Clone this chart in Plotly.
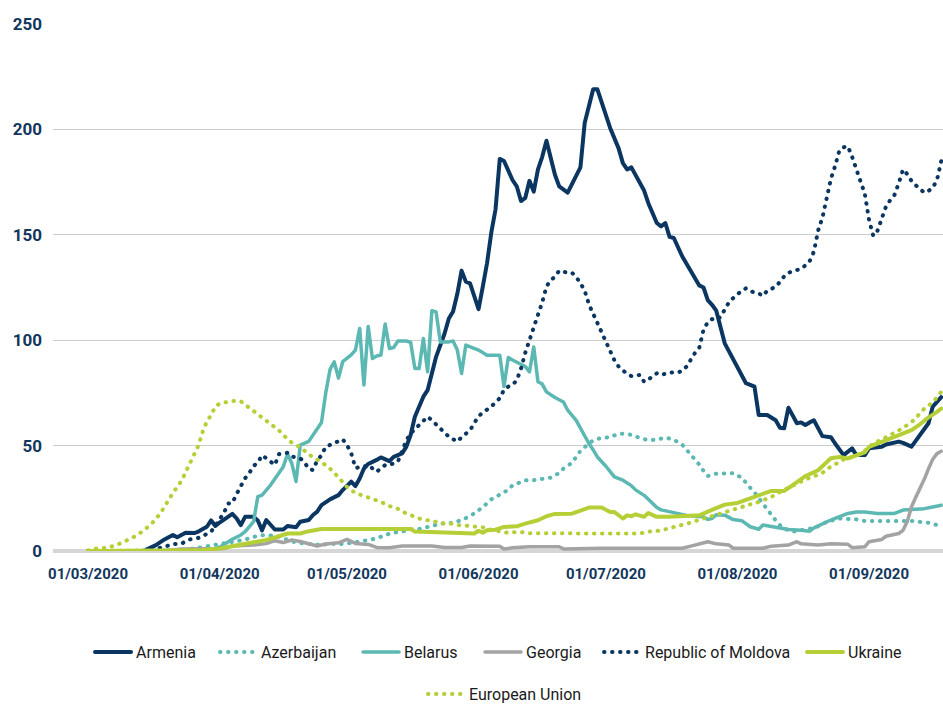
import plotly.graph_objects as go

# ---- data ----
tick_dates = ["2020-03-01", "2020-04-01", "2020-05-01", "2020-06-01",
              "2020-07-01", "2020-08-01", "2020-09-01"]
tick_labels = ["01/03/2020", "01/04/2020", "01/05/2020", "01/06/2020",
               "01/07/2020", "01/08/2020", "01/09/2020"]
y_ticks = [0, 50, 100, 150, 200, 250]

armenia_dates = ["03-01","03-14","03-17","03-19","03-21","03-22","03-24","03-26","03-27","03-28","03-29","03-30","03-31",
    "04-01","04-02","04-04","04-05","04-06","04-07","04-09","04-10","04-11","04-12","04-14","04-16","04-17","04-19","04-20",
    "04-22","04-23","04-24","04-25","04-27","04-29","04-30","05-01","05-02","05-03","05-04","05-05","05-06","05-08","05-09",
    "05-11","05-12","05-14","05-15","05-16","05-17","05-19","05-20","05-21","05-22","05-24","05-25","05-26","05-27","05-28",
    "05-29","05-30","06-01","06-02","06-03","06-04","06-05","06-06","06-07","06-09","06-10","06-11","06-12","06-13","06-14",
    "06-15","06-16","06-17","06-19","06-20","06-22","06-25","06-26","06-28","06-29","07-02","07-03","07-04","07-05","07-06",
    "07-07","07-10","07-11","07-13","07-14","07-15","07-16","07-17","07-19","07-22","07-23","07-24","07-25","07-26","07-27",
    "07-29","07-31","08-02","08-03","08-05","08-06","08-08","08-10","08-11","08-12","08-13","08-15","08-16","08-17","08-18",
    "08-19","08-21","08-23","08-24","08-26","08-28","08-29","08-31","09-01","09-04","09-05","09-08","09-09","09-11","09-13",
    "09-15","09-16","09-18"]
armenia = [0,0,2.8,5.5,7.6,6.5,8.7,8.5,9.2,10.5,11.5,14.5,11.9,
    13.5,14.7,17.6,15.5,12.3,16.2,16.2,14.5,9.8,14.7,10.2,10.2,11.9,11.3,13.9,
    14.7,17.1,18.7,21.8,24.5,26.5,28.9,30.8,32.9,30.8,34.4,39.1,41.3,43.2,44.4,
    42.6,44.7,46.3,49.5,55,63.7,73.2,76.3,84.2,92.1,103.2,110.3,113.6,122,133,
    127.8,127,114.7,125.4,136.5,151,162,186,185,176,173,166,167.5,175.6,170.5,
    181,187,194.6,178.5,173,170,182,203,219,219,200.7,196,191,184,181,
    182,171,165,155.6,154,155.6,149,148.5,139.7,130,126,125,119,116.8,114,
    98.5,90.6,82.7,79.6,78,64.5,64.5,62,58.5,58.2,68,60.6,61,59.8,61,
    62,54.5,54,51,45.5,48.7,45.5,45.5,48.7,49.5,50.5,51.9,51.3,49.5,55,
    60.6,68.5,73]

azerbaijan_dates = ["03-01","03-23","03-26","03-30","04-02","04-03","04-07","04-09","04-11","04-13","04-15","04-17","04-19",
    "04-21","04-23","04-25","04-27","04-29","05-01","05-03","05-04","05-06","05-08","05-10","05-12","05-14","05-16","05-18",
    "05-20","05-22","05-24","05-26","05-27","05-29","05-31","06-02","06-04","06-06","06-08","06-09","06-11","06-12","06-14",
    "06-16","06-18","06-20","06-21","06-23","06-24","06-25","06-27","06-28","06-30","07-02","07-04","07-06","07-08","07-09",
    "07-11","07-13","07-15","07-17","07-19","07-20","07-21","07-22","07-23","07-24","07-25","07-27","07-29","07-31","08-02",
    "08-03","08-04","08-05","08-06","08-07","08-08","08-09","08-10","08-11","08-12","08-14","08-16","08-18","08-20","08-22",
    "08-25","08-27","08-29","08-31","09-02","09-04","09-08","09-10","09-12","09-13","09-15","09-17","09-18"]
azerbaijan = [0,0.3,1.2,2.7,3.8,4.3,5.4,6.7,7.5,7.4,6.8,5.3,4,
    3.6,3,2.8,3.5,3.2,3.6,3.9,4.4,5.2,6,7.6,8.7,9.2,10.3,10.4,
    11.6,12.4,13.2,13.3,14,15.6,17.8,20.8,24.5,26.6,29,31.2,32.6,33.5,33.6,
    34.4,34.8,37,39.1,41.8,44.6,47.5,51,52.5,53.7,54,55.7,55.6,54.5,53.5,
    52.6,52.8,53.8,52.8,50.4,48,46,43.5,41,38,35.6,36.7,36.9,36.9,34.8,
    32,30,27.8,25,22.5,19.8,17,14.5,12.3,10.6,9.2,9.8,10.6,11.7,13.8,
    15.4,15.4,15,14.2,14.2,14.6,14.6,14.2,14.2,13.8,13.4,12.3,11.7]

belarus_dates = ["03-01","03-29","04-01","04-04","04-06","04-07","04-08","04-09","04-10","04-11","04-13","04-14","04-15",
    "04-16","04-17","04-18","04-19","04-20","04-22","04-23","04-24","04-25","04-26","04-27","04-28","04-29","04-30","05-01",
    "05-02","05-03","05-04","05-05","05-06","05-07","05-08","05-09","05-10","05-11","05-12","05-13","05-15","05-16","05-17",
    "05-18","05-19","05-20","05-21","05-22","05-23","05-25","05-26","05-27","05-28","05-29","06-01","06-03","06-06","06-07",
    "06-08","06-09","06-11","06-12","06-13","06-14","06-15","06-16","06-17","06-19","06-21","06-22","06-24","06-25","06-26",
    "06-27","06-28","06-29","07-01","07-02","07-03","07-05","07-07","07-08","07-10","07-11","07-13","07-14","07-16","07-18",
    "07-20","07-22","07-24","07-25","07-26","07-27","07-29","07-31","08-02","08-04","08-06","08-07","08-09","08-11","08-13",
    "08-16","08-18","08-19","08-21","08-23","08-24","08-27","08-29","08-31","09-03","09-07","09-09","09-11","09-14","09-16",
    "09-18"]
belarus = [0,0.3,1.8,5.6,7.6,9.2,11.5,13.9,25.8,26.5,31.3,34,37,
    40,46,41.6,33,50.2,52,55,58,61,75,86,89.7,82,89.8,91.5,
    93,95.3,105.6,78.8,106.5,91.3,92.5,93,107.7,96.1,96.5,99.6,99.6,99,86.6,
    86.6,100.8,85,114,113.4,99.2,99.2,99.6,95.3,84.2,97.7,95.3,92.9,92.9,78,
    91.8,90.6,88.5,87.5,85,96.8,80.3,79.2,75.5,72.8,70.7,66.8,62,58.1,54.5,
    51,48,44.6,40.2,37.5,35.2,33.6,31,29,26.4,24.5,20.6,19.5,18.5,17.8,
    16.9,16.5,16.2,15,15.4,17.2,17,14.9,14.4,11.5,10.3,12.3,11.5,11,10.2,
    9.8,9.4,11,13,14.7,15.5,17.8,18.5,18.5,17.8,17.8,19.4,19.6,20.1,20.9,
    21.7]

georgia_dates = ["03-01","03-19","03-23","04-02","04-04","04-09","04-12","04-14","04-16","04-18","04-20","04-22","04-24",
    "04-26","04-29","05-01","05-03","05-06","05-08","05-11","05-14","05-21","05-24","05-28","05-30","06-06","06-07","06-09",
    "06-13","06-20","06-21","06-30","07-19","07-21","07-24","07-25","07-27","07-30","07-31","08-07","08-09","08-13","08-15",
    "08-16","08-20","08-23","08-27","08-28","08-31","09-01","09-04","09-05","09-08","09-09","09-10","09-11","09-12","09-13",
    "09-14","09-15","09-16","09-17","09-18"]
georgia = [0,0,1,1.2,2.4,2.8,3.5,4.9,4,5.2,4.5,3.4,2.4,
    3.3,3.9,5.5,3.6,3.1,1.7,1.5,2.4,2.4,1.7,1.7,2.4,2.2,1,1.5,
    2,2,1,1.3,1.3,2.3,3.6,4.4,3.4,2.8,1.3,1.3,2.3,2.8,4.4,
    3.4,2.8,3.4,3.2,1.6,2,4.4,5.5,7,8.3,9.8,14,21,25.5,29.6,
    34,39,43.5,46.2,47.3]

moldova_dates = ["03-01","03-15","03-19","03-21","03-23","03-25","03-27","03-28","03-30","04-01","04-02","04-03","04-04",
    "04-05","04-06","04-07","04-08","04-09","04-10","04-11","04-12","04-14","04-15","04-17","04-18","04-20","04-21","04-22",
    "04-23","04-24","04-25","04-26","04-27","04-29","04-30","05-01","05-02","05-03","05-05","05-06","05-08","05-10","05-11",
    "05-13","05-14","05-15","05-16","05-17","05-18","05-20","05-21","05-23","05-25","05-27","05-28","05-30","06-01","06-03",
    "06-04","06-06","06-07","06-08","06-09","06-10","06-11","06-12","06-13","06-14","06-15","06-16","06-17","06-18","06-19",
    "06-20","06-22","06-23","06-24","06-25","06-26","06-27","06-28","06-29","06-30","07-01","07-02","07-03","07-04","07-05",
    "07-06","07-07","07-09","07-10","07-11","07-12","07-13","07-14","07-16","07-18","07-19","07-20","07-21","07-22","07-23",
    "07-24","07-25","07-26","07-27","07-28","07-29","07-30","07-31","08-01","08-02","08-03","08-04","08-06","08-07","08-08",
    "08-10","08-11","08-12","08-13","08-15","08-16","08-17","08-18","08-19","08-20","08-21","08-22","08-23","08-24","08-25",
    "08-26","08-27","08-28","08-29","08-30","08-31","09-01","09-02","09-03","09-04","09-05","09-06","09-07","09-08","09-09",
    "09-10","09-11","09-12","09-13","09-14","09-15","09-16","09-17","09-18"]
moldova = [0,0,2,3.3,3.5,5.5,6.2,7,9.2,14.7,18,22.5,22.8,
    27,31,34.5,37,40.3,42,45.4,44,40.8,46,46.6,44.8,44,42,39,
    38.4,43,45.4,49.5,50.3,52,53,50.3,46.4,39.4,40,40.8,37.6,40.8,40.8,
    42.4,48,52.5,55.8,57.7,60,63.7,62,58.2,54.2,51.9,54,57.3,64,67.1,
    68.5,72.5,76.5,78,78.8,81,86.5,94,100.5,106,112,118,125.5,128.5,130.1,
    133,132,132,130,127,123.5,117,112.5,108,103,99,94.5,90.5,87.5,85.5,
    84,83,83.5,80.3,81.2,83,84.3,83.5,84.7,84.7,85.5,87.5,91,94,96.5,
    105,108.5,110,109.6,111,114.5,118,120,121.8,123.5,124.6,123.2,122.2,121,123.5,
    125.3,127.7,130.3,132,133,133.9,135.5,137.5,142,152,158,167,176.5,182.6,190,
    191.5,192,187,181,176,169.4,157,149.5,152,157.8,163.5,166.5,169,174.5,181,
    178.8,175.5,173.5,171.5,170,170.8,172.3,176,185]

ukraine_dates = ["03-01","03-27","04-01","04-04","04-08","04-12","04-15","04-17","04-20","04-22","04-25","05-16","05-17",
    "05-31","06-01","06-02","06-03","06-05","06-07","06-10","06-12","06-15","06-17","06-19","06-23","06-25","06-27","06-30",
    "07-02","07-03","07-05","07-06","07-07","07-08","07-10","07-11","07-13","07-16","07-19","07-23","07-26","07-28","07-29",
    "08-01","08-03","08-06","08-09","08-12","08-14","08-17","08-20","08-22","08-23","08-25","08-27","08-29","08-31","09-01",
    "09-04","09-06","09-08","09-11","09-13","09-15","09-17","09-18"]
ukraine = [0,0.3,1.2,2.4,3.6,5.2,7,8.3,8.3,9.4,10.4,10.4,9.2,
    8.3,9.6,8.7,9.8,10.1,11.4,11.7,13,14.6,16.5,17.6,17.7,19.3,20.6,20.6,
    18.5,18.5,15.4,16.9,16.5,17.4,16.2,18,16.2,16.2,16.5,16.9,19.5,20.9,22,
    22.8,24.4,26.4,28.5,28.5,31.2,35.5,38.3,41.8,44,44.6,43.9,45.4,46.8,49.4,
    51.7,53.3,54.8,57.3,60.1,63.4,66,67.6]

eu_dates = ["03-01","03-03","03-05","03-07","03-09","03-11","03-12","03-14","03-16","03-18","03-20","03-21","03-23",
    "03-24","03-25","03-26","03-27","03-28","03-29","03-30","03-31","04-01","04-03","04-04","04-06","04-08","04-09","04-11",
    "04-12","04-14","04-15","04-16","04-18","04-20","04-23","04-25","04-27","04-29","05-01","05-03","05-06","05-07","05-09",
    "05-11","05-13","05-14","05-16","05-18","05-20","05-22","05-24","05-26","05-27","05-29","05-31","06-02","06-04","06-06",
    "06-08","06-10","06-11","06-13","07-09","07-11","07-13","07-15","07-17","07-19","07-21","07-23","07-25","07-27","07-29",
    "07-31","08-02","08-03","08-05","08-07","08-09","08-10","08-12","08-14","08-15","08-17","08-19","08-21","08-22","08-24",
    "08-26","08-28","08-30","08-31","09-02","09-04","09-06","09-08","09-10","09-12","09-13","09-14","09-16","09-17","09-18"]
eu = [0.3,1.2,1.5,2.4,3.9,5.8,6.9,9.5,13,17.7,24.8,27.5,33.2,
    37.5,42.5,46,50,56.5,61.5,64.5,68.5,70,70.6,71.2,71,68,66.5,63.6,
    62,58.8,57.2,55,51.4,49.2,44.4,42.2,39.1,35,30.4,27.5,25.3,24.7,23.3,
    21.3,20,18.7,16.8,15.4,14.6,13.8,13,12.9,12.3,12,11.4,11.2,10,9.3,
    8.6,9,9,8.4,8.3,9.2,9.5,10.3,11.3,12.2,13.5,14.8,16,16.9,18,
    19.3,20.8,21.7,22.5,24.1,25.6,27,28.8,30.7,32,33.9,35.5,37,38.8,41.2,
    43.4,44.6,46.2,47.6,51,52.9,54.9,57.2,59.7,62.8,65.5,67.5,70.5,73,75.5]

# ---- styles ----
NAVY = "#0b3661"
TEAL = "#5cb8b2"
GREY = "#a3a3a3"
LIME = "#b5cf37"
DOT = "0.5px,7.5px"

# name, dates, values, colour, dash, width, legend, legend entry width
series = [
    ("Armenia", armenia_dates, armenia, NAVY, "solid", 4, "legend", 74),
    ("Azerbaijan", azerbaijan_dates, azerbaijan, TEAL, DOT, 4, "legend", 92),
    ("Belarus", belarus_dates, belarus, TEAL, "solid", 3.5, "legend", 71),
    ("Georgia", georgia_dates, georgia, GREY, "solid", 3.5, "legend", 68),
    ("Republic of Moldova", moldova_dates, moldova, NAVY, DOT, 4, "legend", 152),
    ("Ukraine", ukraine_dates, ukraine, LIME, "solid", 4, "legend", 60),
    ("European Union", eu_dates, eu, LIME, DOT, 4, "legend2", 110),
]

fig = go.Figure()
for name, dts, vals, color, dash, width, leg, lw in series:
    fig.add_trace(go.Scatter(
        x=["2020-" + d for d in dts], y=vals, name=name, mode="lines",
        line=dict(color=color, width=width, dash=dash),
        legend=leg, legendwidth=lw, hoverinfo="skip"))

TICKFONT = dict(family="Roboto, DejaVu Sans, sans-serif", color="#12375c", weight="bold")
LEGFONT = dict(family="Roboto, sans-serif", size=16, color="#1a1a1a")

fig.update_layout(
    width=943, height=704,
    margin=dict(l=53, r=0, t=24, b=153, autoexpand=False),
    paper_bgcolor="white", plot_bgcolor="white",
    showlegend=True,
    xaxis=dict(
        type="date",
        range=["2020-02-21 18:00", "2020-09-18 10:00"],
        tickvals=tick_dates, ticktext=tick_labels,
        tickfont=dict(size=15, **TICKFONT),
        showgrid=False, zeroline=False, showline=False,
        ticks="", ticklabelstandoff=12,
    ),
    yaxis=dict(
        range=[0, 250], tickvals=y_ticks,
        tickfont=dict(size=17, **TICKFONT),
        showgrid=True, gridcolor="#cccccc", gridwidth=1.3,
        zeroline=True, zerolinecolor="#d6d6d6", zerolinewidth=3.5,
        showline=False, ticks="", ticklabelstandoff=10,
    ),
    legend=dict(orientation="h", x=0.0416, xanchor="left", y=-0.1917, yanchor="middle",
                font=LEGFONT, bgcolor="rgba(0,0,0,0)", itemwidth=36),
    legend2=dict(orientation="h", x=0.4157, xanchor="left", y=-0.2713, yanchor="middle",
                 font=LEGFONT, bgcolor="rgba(0,0,0,0)", itemwidth=36),
)

POST = ("document.body.style.margin='0';document.body.style.overflow='hidden';"
        "document.querySelectorAll('path.js-line').forEach(function(p){"
        "p.style.strokeLinecap='round';p.style.strokeLinejoin='round';});")

fig.write_html("out.html", config={"displayModeBar": False}, post_script=POST)
